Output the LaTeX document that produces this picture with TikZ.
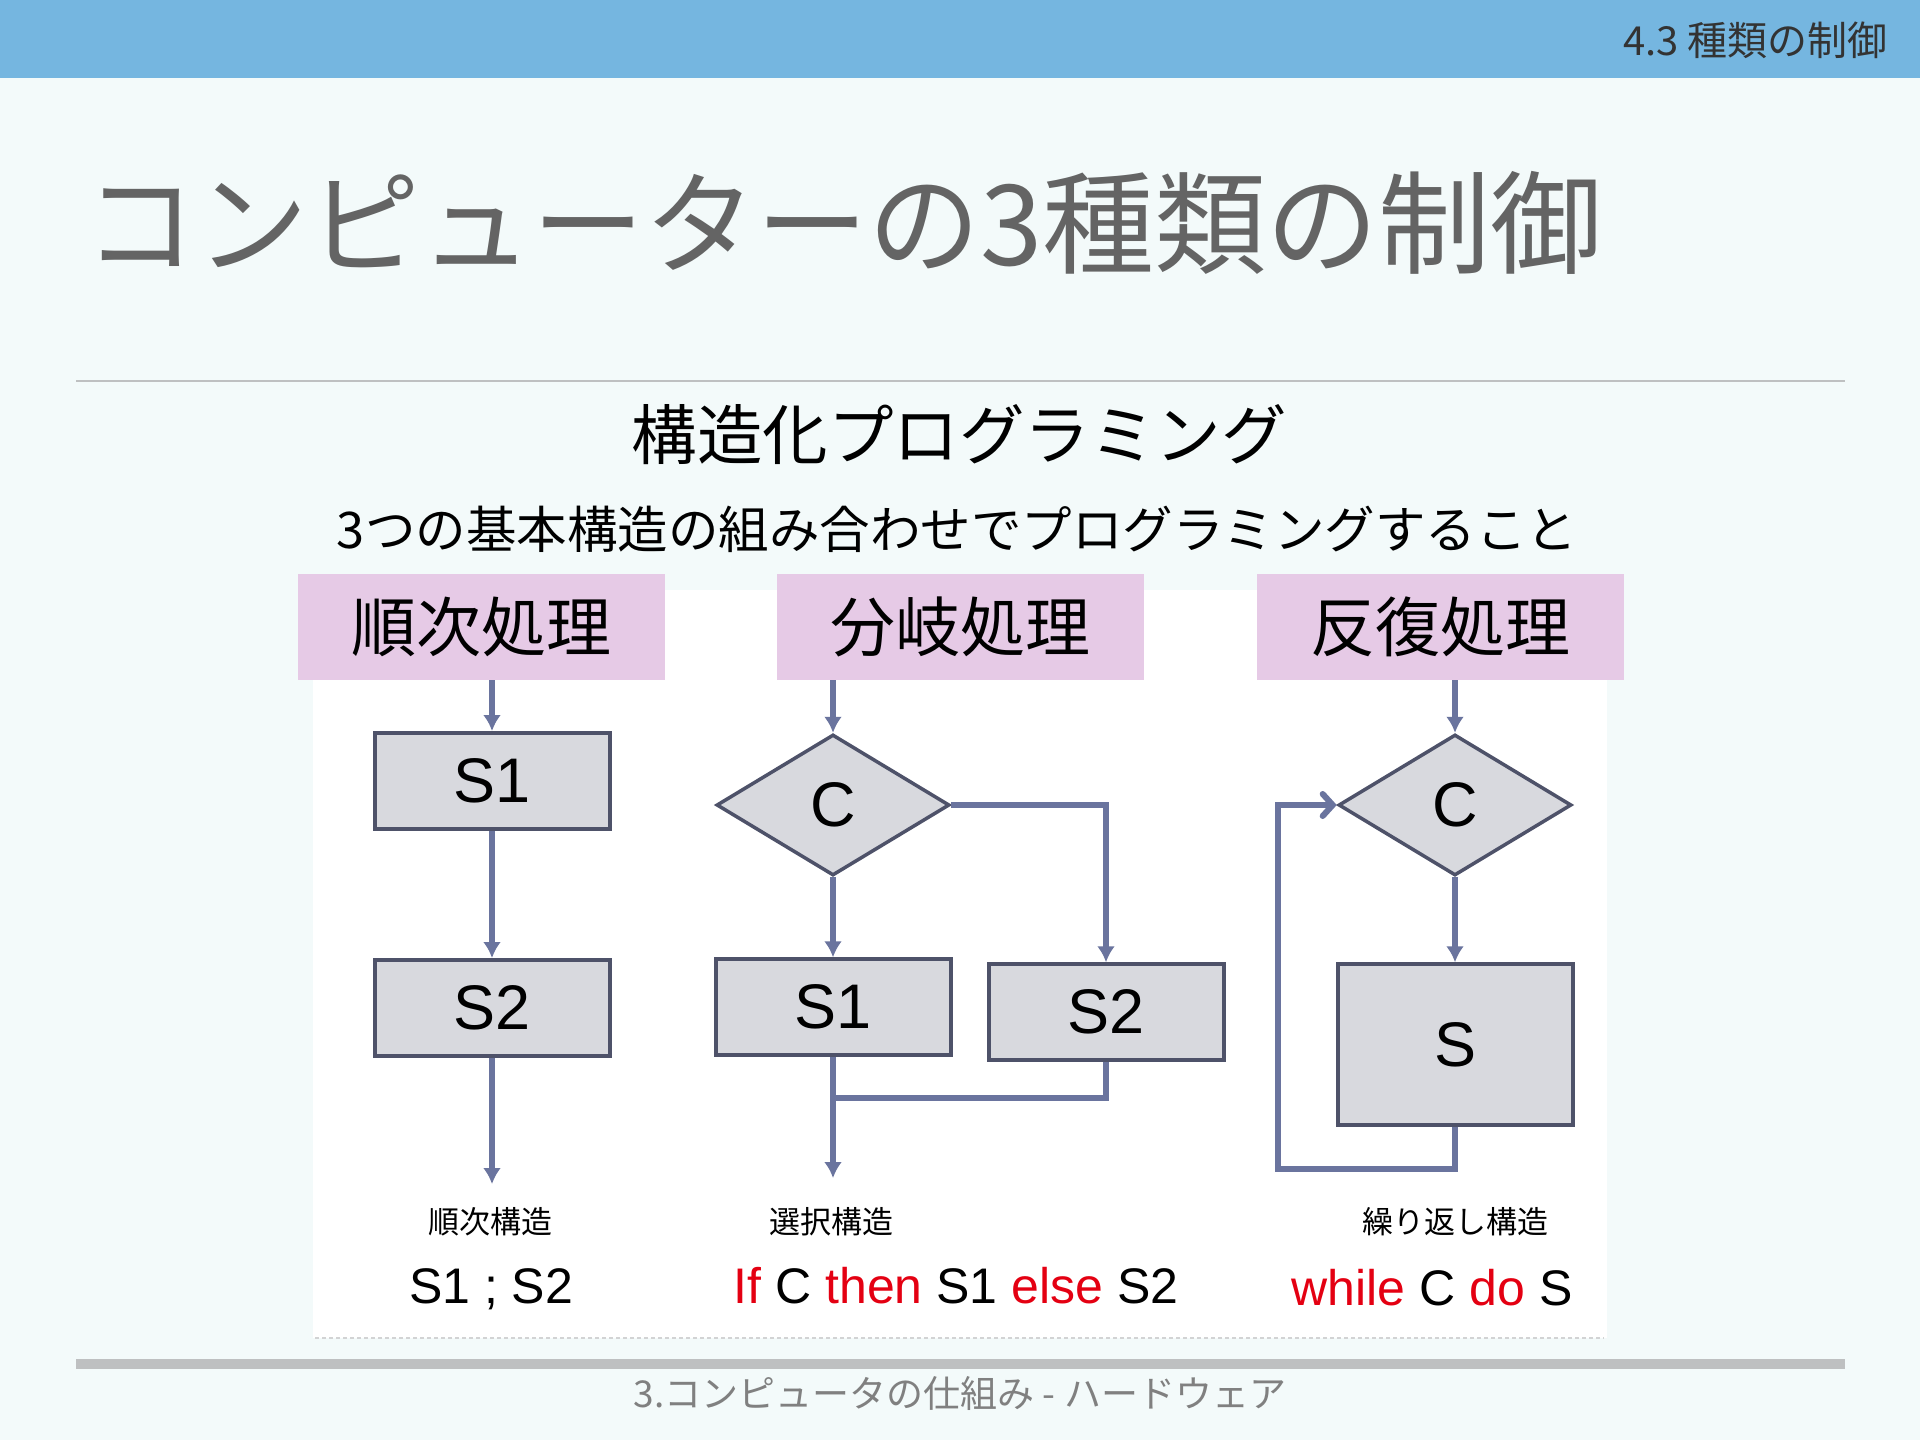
\documentclass[tikz,border=0pt]{standalone}
\usepackage{fontspec}
\setmainfont{Liberation Sans}
\newfontfamily\jp{Noto Sans CJK JP}
\usetikzlibrary{shapes.geometric, arrows.meta, positioning, calc}

\definecolor{barblue}{RGB}{117,182,224}
\definecolor{pagebg}{RGB}{243,250,250}
\definecolor{headpink}{RGB}{230,202,230}
\definecolor{boxgray}{RGB}{216,217,222}
\definecolor{boxline}{RGB}{78,82,105}
\definecolor{flowline}{RGB}{106,116,158}
\definecolor{titlegray}{RGB}{100,100,100}
\definecolor{rulegray}{RGB}{190,192,193}
\definecolor{kwred}{RGB}{228,0,18}
\newcommand{\kw}[1]{\textcolor{kwred}{#1}}

\begin{document}
\begin{tikzpicture}[x=1pt, y=-1pt,
          head/.style={rectangle, fill=headpink, minimum width=367pt, minimum height=106pt, inner sep=0pt, font=\jp\fontsize{65}{65}\selectfont},
          proc/.style={rectangle, draw=boxline, fill=boxgray, line width=4pt, minimum width=235pt, minimum height=96pt, inner sep=0pt, font=\fontsize{63}{63}\selectfont},
          cond/.style={diamond, draw=boxline, fill=boxgray, line width=3.5pt, minimum width=233pt, minimum height=141pt, inner sep=0pt, font=\fontsize{63}{63}\selectfont},
          arrow/.style={-{Latex[length=16pt,width=18pt]}, line width=6pt, draw=flowline},
          backarrow/.style={-{Straight Barb[length=10pt,width=22pt,line cap=round]}, line width=6pt, draw=flowline},
          flow/.style={line width=6pt, draw=flowline},
          tag/.style={font=\jp\fontsize{31}{31}\selectfont},
          stmt/.style={anchor=base, inner sep=0pt, font=\fontsize{50}{50}\selectfont}]

        % slide frame
        \fill[pagebg] (0,0) rectangle (1920,1440);
        \fill[barblue] (0,0) rectangle (1920,78);
        \node[anchor=east, inner sep=0pt, text=black!80, font=\jp\fontsize{40}{40}\selectfont] (sec_no) at (1888,40) {4.3 種類の制御};
        \node[anchor=west, inner sep=0pt, text=titlegray, font=\jp\fontsize{112}{112}\selectfont] (title) at (84,223) {コンピューターの3種類の制御};
        \draw[rulegray, line width=2pt] (76,381) -- (1845,381);
        \node[font=\jp\fontsize{65.5}{65.5}\selectfont] (sub_title) at (959,435) {構造化プログラミング};
        \node[font=\jp\fontsize{50.5}{50.5}\selectfont] (sub_text) at (957,529) {3つの基本構造の組み合わせでプログラミングすること};
        \fill[white] (313,590) rectangle (1607,1338);
        \draw[rulegray!70, line width=1.5pt, dash pattern=on 4pt off 3pt] (315,1338) -- (1604,1338);
        \fill[rulegray] (76,1359) rectangle (1845,1369);
        \node[text=gray, font=\jp\fontsize{37}{37}\selectfont] (footer) at (960,1393) {3.コンピュータの仕組み - ハードウェア};

        \node [head] (seq_head) at (481,627) {順次処理};
        \node [head] (br_head) at (960,627) {分岐処理};
        \node [head] (lp_head) at (1440,627) {反復処理};

        % sequence
        \node [proc] (seq_s1) at (492,781) {S1};
        \node [proc, below=127pt of seq_s1] (seq_s2) {S2};
        \coordinate (seq_end) at (492,1184);
        \draw [arrow] (seq_head.south -| seq_s1.north) -- (seq_s1.north);
        \draw [arrow] (seq_s1) -- (seq_s2);
        \draw [arrow] (seq_s2) -- (seq_end);

        % selection
        \node [cond] (br_c) at (833,805) {C};
        \node [proc, below=80pt of br_c] (br_s1) {S1};
        \node [proc, right=34pt of br_s1, yshift=-5pt] (br_s2) {S2};
        \coordinate (br_join) at (833,1098);
        \coordinate (br_end) at (833,1178);
        \draw [arrow] (br_head.south -| br_c.north) -- (br_c.north);
        \draw [arrow] (br_c) -- (br_s1);
        \draw [arrow] (br_c.east) -| (br_s2.north);
        \draw [flow] (br_s2.south) |- (br_join);
        \draw [arrow] (br_s1.south) -- (br_end);

        % iteration
        \node [cond] (lp_c) at (1455,805) {C};
        \node [proc, minimum height=161pt, below=85pt of lp_c] (lp_s) {S};
        \coordinate (lp_back) at (1278,1169);
        \draw [arrow] (lp_head.south -| lp_c.north) -- (lp_c.north);
        \draw [arrow] (lp_c) -- (lp_s);
        \draw [backarrow] (lp_s.south) |- (lp_back) |- (lp_c.west);

        \node [tag] (seq_tag) at (490,1222) {順次構造};
        \node [tag] (br_tag) at (831,1222) {選択構造};
        \node [tag] (lp_tag) at (1455,1222) {繰り返し構造};
        \node [stmt] (seq_code) at (491,1303) {S1 ; S2};
        \node [stmt] (br_code) at (956,1303) {\kw{If} C \kw{then} S1 \kw{else} S2};
        \node [stmt] (lp_code) at (1432,1305) {\kw{while} C \kw{do} S};
      \end{tikzpicture}
\end{document}
